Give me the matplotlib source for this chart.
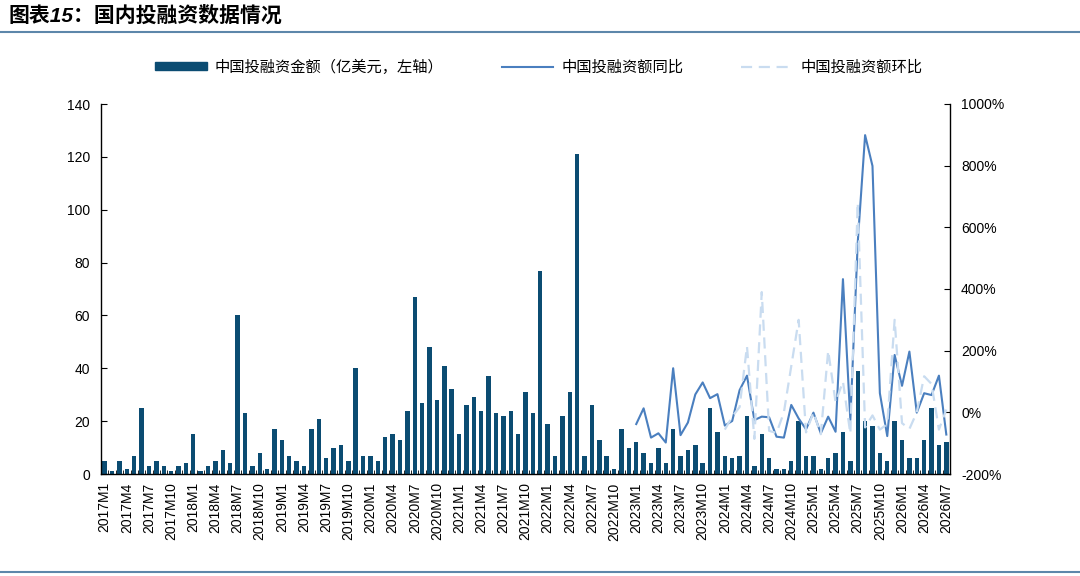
import numpy as np
import matplotlib.pyplot as plt
from matplotlib.lines import Line2D
from matplotlib.patches import Patch

plt.rcParams['font.family'] = ['Liberation Sans', 'Noto Sans CJK SC']

# monthly categories 2017M1 .. 2026M7
months = [f'{y}M{m}' for y in range(2017, 2027) for m in range(1, 13)][:115]

# 中国投融资金额 (亿美元)
amount = [5, 1, 5, 2, 7, 25, 3, 5, 3, 1, 3, 4,
          15, 1, 3, 5, 9, 4, 60, 23, 3, 8, 2, 17,
          13, 7, 5, 3, 17, 21, 6, 10, 11, 5, 40, 7,
          7, 5, 14, 15, 13, 24, 67, 27, 48, 28, 41, 32,
          15, 26, 29, 24, 37, 23, 22, 24, 15, 31, 23, 77,
          19, 7, 22, 31, 121, 7, 26, 13, 7, 2, 17, 10,
          12, 8, 4, 10, 4, 17, 7, 9, 11, 4, 25, 16,
          7, 6, 7, 22, 3, 15, 6, 2, 2, 5, 20, 7,
          7, 2, 6, 8, 16, 5, 39, 20, 18, 8, 5, 20,
          13, 6, 6, 13, 25, 11, 12]

# 同比 (%), from 2023M1
yoy_start = '2023M1'
yoy = [-38, 13, -82, -68, -98, 143, -74, -33, 58, 97, 46, 59,
       -43, -28, 72, 119, -25, -14, -16, -79, -82, 24, -20, -55,
       -1, -68, -14, -63, 432, -25, 550, 899, 799, 62, -77, 186,
       86, 197, -1, 62, 56, 119, -72]

# 环比 (%), from 2024M1
mom_start = '2024M1'
mom = [-56, -14, 17, 214, -86, 390, -60, -67, 0, 150, 300, -65,
       0, -71, 200, 33, 100, -69, 680, -49, -10, -56, -38, 300,
       -35, -54, 0, 117, 92, -56, 9]

bar_c = '#0b4c72'
yoy_c = '#4a7fbf'
mom_c = '#c9dcf0'

fig = plt.figure(figsize=(10.8, 5.76), dpi=100)
ax = fig.add_axes([101/1080, 1-474/576, 849/1080, 370/576])
ax2 = ax.twinx()

x = np.arange(len(months))
ax.bar(x, amount, width=0.6, color=bar_c, zorder=2)

i0 = months.index(yoy_start)
ax2.plot(x[i0:i0+len(yoy)], yoy, color=yoy_c, lw=1.5, zorder=3)
i1 = months.index(mom_start)
ax2.plot(x[i1:i1+len(mom)], mom, color=mom_c, lw=1.6, ls=(0, (5, 3)), zorder=4)

ax.set_xlim(-0.5, len(months) - 0.5)
ax.set_ylim(0, 140)
ax.set_yticks(range(0, 141, 20))
ax2.set_ylim(-200, 1000)
ax2.set_yticks(range(-200, 1001, 200))
ax2.set_yticklabels([f'{v}%' for v in range(-200, 1001, 200)])

ax.set_xticks(x[::3])
ax.set_xticklabels(months[::3], rotation=90)
ax.set_xticks(np.arange(-0.5, len(months), 1), minor=True)
ax.tick_params(axis='x', which='major', length=0, pad=6, labelsize=10)
ax.tick_params(axis='x', which='minor', direction='in', length=3, width=0.6)
ax.tick_params(axis='y', direction='in', length=4, labelsize=10, pad=8)
ax2.tick_params(axis='y', direction='in', length=4, labelsize=10, pad=8)

for a in (ax, ax2):
    a.spines['top'].set_visible(False)
    for s in a.spines.values():
        s.set_linewidth(1.0)
ax.spines['right'].set_visible(False)
ax2.spines['left'].set_visible(False)
ax2.spines['bottom'].set_visible(False)

handles = [Patch(color=bar_c),
           Line2D([], [], color=yoy_c, lw=1.5),
           Line2D([], [], color=mom_c, lw=1.6, ls=(0, (5, 3)))]
labels = ['中国投融资金额（亿美元，左轴）', '中国投融资额同比', '中国投融资额环比']
leg = fig.legend(handles, labels, ncol=3, loc='center', bbox_to_anchor=(0.499, 1-67/576),
                 frameon=False, fontsize=11, handlelength=3.4, handleheight=0.45,
                 columnspacing=3.8, handletextpad=0.5)

fig.text(8/1080, 1-16/576, '图表15：国内投融资数据情况', fontsize=15, fontweight='bold',
         style='italic', va='center', ha='left')
fig.add_artist(Line2D([0, 1], [1-32/576]*2, transform=fig.transFigure, color='#5d87aa', lw=1.5))
fig.add_artist(Line2D([0, 1], [1-572/576]*2, transform=fig.transFigure, color='#5d87aa', lw=1.5))

fig.savefig('out.png', dpi=100)
